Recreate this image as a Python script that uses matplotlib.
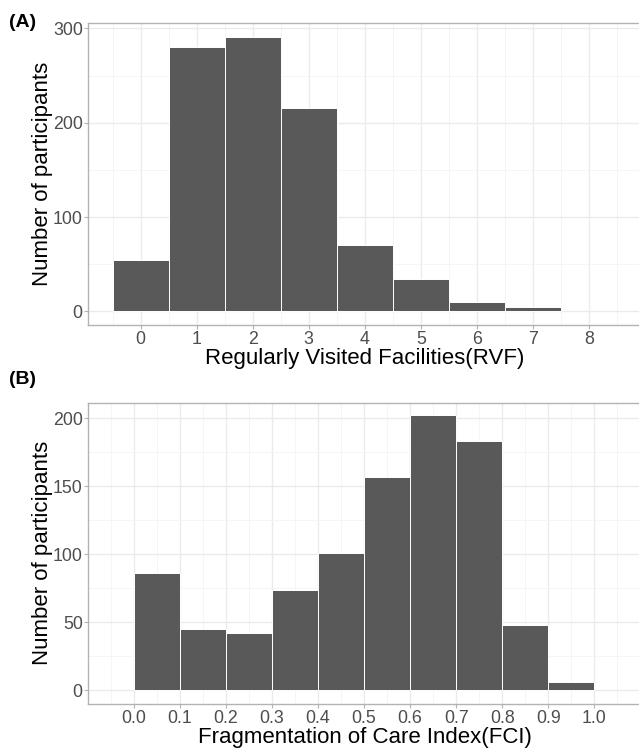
import numpy as np
import matplotlib
matplotlib.use("Agg")
import matplotlib.pyplot as plt

plt.rcParams['font.family'] = ['Liberation Sans', 'DejaVu Sans']

# (A) regularly visited facilities
rvf_values = [0, 1, 2, 3, 4, 5, 6, 7]
rvf_counts = [54, 280, 291, 216, 70, 34, 10, 5]
rvf_ticks = [0, 1, 2, 3, 4, 5, 6, 7, 8]

# (B) fragmentation of care index, bins of width 0.1
fci_left = [0.0, 0.1, 0.2, 0.3, 0.4, 0.5, 0.6, 0.7, 0.8, 0.9]
fci_counts = [86, 45, 42, 74, 101, 157, 202, 183, 48, 6]
fci_ticks = [0.0, 0.1, 0.2, 0.3, 0.4, 0.5, 0.6, 0.7, 0.8, 0.9, 1.0]

W, H = 639, 748
fig = plt.figure(figsize=(W / 100, H / 100), dpi=100)

bar_col = '#595959'
grid_col = '#EBEBEB'
border_col = '#B3B3B3'
tick_col = '#4D4D4D'


def px_axes(left, right, top, bottom):
    return fig.add_axes([left / W, 1 - bottom / H, (right - left) / W, (bottom - top) / H])


def style(ax, yticks, yminor, xminor):
    ax.set_axisbelow(True)
    ax.set_yticks(yticks)
    ax.set_yticks(yminor, minor=True)
    ax.set_xticks(xminor, minor=True)
    ax.grid(which='major', color=grid_col, linewidth=1.0)
    ax.grid(which='minor', color='#F4F4F4', linewidth=0.6)
    for s in ax.spines.values():
        s.set_color(border_col)
        s.set_linewidth(1.0)
    ax.tick_params(which='major', colors=border_col, labelcolor=tick_col,
                   labelsize=12.8, length=3, width=0.8, pad=1)
    ax.tick_params(which='minor', length=0)


# panel A
ax1 = px_axes(88.3, 642, 22.7, 325)
ax1.bar(rvf_values, rvf_counts, width=1.0, color=bar_col, edgecolor='white', linewidth=0.7)
ax1.set_xlim(-0.936, 8.95)
ax1.set_ylim(-14.5, 306)
ax1.set_xticks(rvf_ticks)
style(ax1, [0, 100, 200, 300], [50, 150, 250], np.arange(-0.5, 9, 1.0))
ax1.set_xlabel('Regularly Visited Facilities(RVF)', fontsize=16, labelpad=0)
ax1.set_ylabel('Number of participants', fontsize=16, labelpad=0)
fig.text(9 / W, 1 - 14 / H, '(A)', fontsize=14, fontweight='bold', va='top', ha='left')

# panel B
ax2 = px_axes(88.3, 642, 402.7, 704)
ax2.bar(fci_left, fci_counts, width=0.1, align='edge', color=bar_col, edgecolor='white', linewidth=0.7)
ax2.set_xlim(-0.0986, 1.1035)
ax2.set_ylim(-10, 211.4)
ax2.set_xticks(fci_ticks)
ax2.set_xticklabels([f'{t:.1f}' for t in fci_ticks])
style(ax2, [0, 50, 100, 150, 200], [25, 75, 125, 175], np.arange(-0.05, 1.1, 0.1))
ax2.set_xlabel('Fragmentation of Care Index(FCI)', fontsize=16, labelpad=0)
ax2.set_ylabel('Number of participants', fontsize=16, labelpad=0)
fig.text(9 / W, 1 - 371 / H, '(B)', fontsize=14, fontweight='bold', va='top', ha='left')

fig.savefig('out.png', dpi=100)
